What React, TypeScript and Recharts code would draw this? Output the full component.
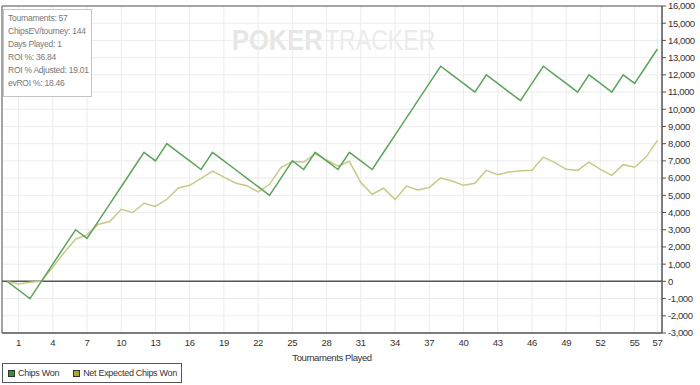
import React from "react";
import {
  LineChart,
  Line,
  XAxis,
  YAxis,
  CartesianGrid,
  ReferenceLine,
  ReferenceArea,
} from "recharts";

// tournament index 0..57
const chipsWon = [
  0, -500, -1000, 0, 1000, 2000, 3000, 2500, 3500, 4500, 5500, 6500, 7500, 7000, 8000, 7500,
  7000, 6500, 7500, 7000, 6500, 6000, 5500, 5000, 6000, 7000, 6500, 7500, 7000, 6500, 7500,
  7000, 6500, 7500, 8500, 9500, 10500, 11500, 12500, 12000, 11500, 11000, 12000, 11500, 11000,
  10500, 11500, 12500, 12000, 11500, 11000, 12000, 11500, 11000, 12000, 11500, 12500, 13500,
];

const netExpected = [
  0, -150, -50, 0, 820, 1680, 2450, 2700, 3320, 3480, 4190, 4000, 4540, 4350, 4770, 5430,
  5580, 5990, 6410, 6060, 5720, 5560, 5200, 5640, 6610, 6970, 6930, 7420, 7050, 6700, 6970,
  5740, 5060, 5410, 4750, 5540, 5310, 5450, 6010, 5830, 5580, 5700, 6450, 6200, 6350, 6430,
  6450, 7220, 6900, 6510, 6450, 6930, 6510, 6160, 6780, 6630, 7220, 8190,
];

const xTicks = [1, 4, 7, 10, 13, 16, 19, 22, 25, 28, 31, 34, 37, 40, 43, 46, 49, 52, 55, 57];
const yTicks = [
  -3000, -2000, -1000, 0, 1000, 2000, 3000, 4000, 5000, 6000, 7000, 8000, 9000, 10000, 11000,
  12000, 13000, 14000, 15000, 16000,
];

const stats = [
  "Tournaments: 57",
  "ChipsEV/tourney: 144",
  "Days Played: 1",
  "ROI %: 36.84",
  "ROI % Adjusted: 19.01",
  "evROI %: 18.46",
];

const data = chipsWon.map((v, i) => ({ n: i, won: v, ev: netExpected[i] }));

const FONT = "'Liberation Sans', Arial, sans-serif";
const GREEN = "#5aa45a";
const OLIVE = "#c9c987";

export default function App() {
  return (
    <div
      style={{
        position: "absolute",
        left: 0,
        top: 0,
        width: 700,
        height: 385,
        background: "#fff",
        overflow: "hidden",
        fontFamily: FONT,
      }}
    >
      {/* watermark, squeezed like the original logo */}
      <svg
        width={230}
        height={40}
        style={{ position: "absolute", left: 230, top: 20 }}
      >
        <g transform="translate(2,0) scale(0.85,1)">
          <text y={30} fontSize={30} fontWeight="bold" fill="#e6e6e6" fontFamily={FONT}>
            POKER
          </text>
        </g>
        <g transform="translate(95,0) scale(0.77,1)">
          <text y={30} fontSize={30} fill="#ebebeb" fontFamily={FONT}>
            TRACKER
          </text>
        </g>
      </svg>

      <LineChart
        width={700}
        height={365}
        data={data}
        margin={{ top: 6, right: 0, left: 2, bottom: 0 }}
        style={{ fontFamily: FONT }}
      >
        <CartesianGrid stroke="#ececec" />
        <XAxis
          dataKey="n"
          type="number"
          domain={[-0.45, 57.4]}
          ticks={xTicks}
          interval={0}
          tickLine={false}
          tickSize={4}
          axisLine={{ stroke: "#555" }}
          tick={{ fontSize: 9.5, fill: "#333", letterSpacing: -0.3 }}
          height={32}
          label={{
            value: "Tournaments Played",
            position: "insideBottom",
            offset: 4,
            fontSize: 9.5,
            fill: "#333",
            letterSpacing: -0.4,
          }}
        />
        <YAxis
          orientation="right"
          domain={[-3000, 16000]}
          ticks={yTicks}
          interval={0}
          width={38}
          tickSize={4}
          tickLine={{ stroke: "#555" }}
          axisLine={{ stroke: "#555" }}
          tick={{ fontSize: 9.5, fill: "#333", textAnchor: "start", letterSpacing: -0.4 }}
          tickFormatter={(v) => Number(v).toLocaleString("en-US")}
        />
        <ReferenceArea
          x1={-0.45}
          x2={57.4}
          y1={-3000}
          y2={16000}
          fill="none"
          stroke="#555"
          strokeWidth={1}
          ifOverflow="extendDomain"
        />
        <ReferenceLine y={0} stroke="#555" strokeWidth={1.5} />
        <Line
          type="linear"
          dataKey="ev"
          stroke={OLIVE}
          strokeWidth={1.5}
          dot={false}
          isAnimationActive={false}
        />
        <Line
          type="linear"
          dataKey="won"
          stroke={GREEN}
          strokeWidth={1.5}
          dot={false}
          isAnimationActive={false}
        />
      </LineChart>

      {/* stats box */}
      <div
        style={{
          position: "absolute",
          left: 3,
          top: 9,
          width: 89,
          height: 88,
          border: "1px solid #c4c4c4",
          background: "#fff",
          boxSizing: "border-box",
          padding: "2px 0 0 4px",
          fontSize: 8.5,
          lineHeight: "13px",
          letterSpacing: -0.25,
          color: "#777",
        }}
      >
        {stats.map((s) => (
          <div key={s} style={{ whiteSpace: "nowrap" }}>
            {s}
          </div>
        ))}
      </div>

      {/* legend */}
      <div
        style={{
          position: "absolute",
          left: 2,
          top: 363,
          width: 180,
          height: 20,
          border: "1px solid #555",
          boxSizing: "border-box",
          display: "flex",
          alignItems: "center",
          fontSize: 9,
          letterSpacing: -0.3,
          color: "#333",
          paddingLeft: 5,
          whiteSpace: "nowrap",
        }}
      >
        <span
          style={{
            width: 5,
            height: 5,
            background: "#2a9a2a",
            border: "1px solid #333",
            marginRight: 3,
            flexShrink: 0,
          }}
        />
        <span style={{ marginRight: 14 }}>Chips Won</span>
        <span
          style={{
            width: 5,
            height: 5,
            background: "#a8a82a",
            border: "1px solid #333",
            marginRight: 3,
            flexShrink: 0,
          }}
        />
        <span>Net Expected Chips Won</span>
      </div>
    </div>
  );
}
